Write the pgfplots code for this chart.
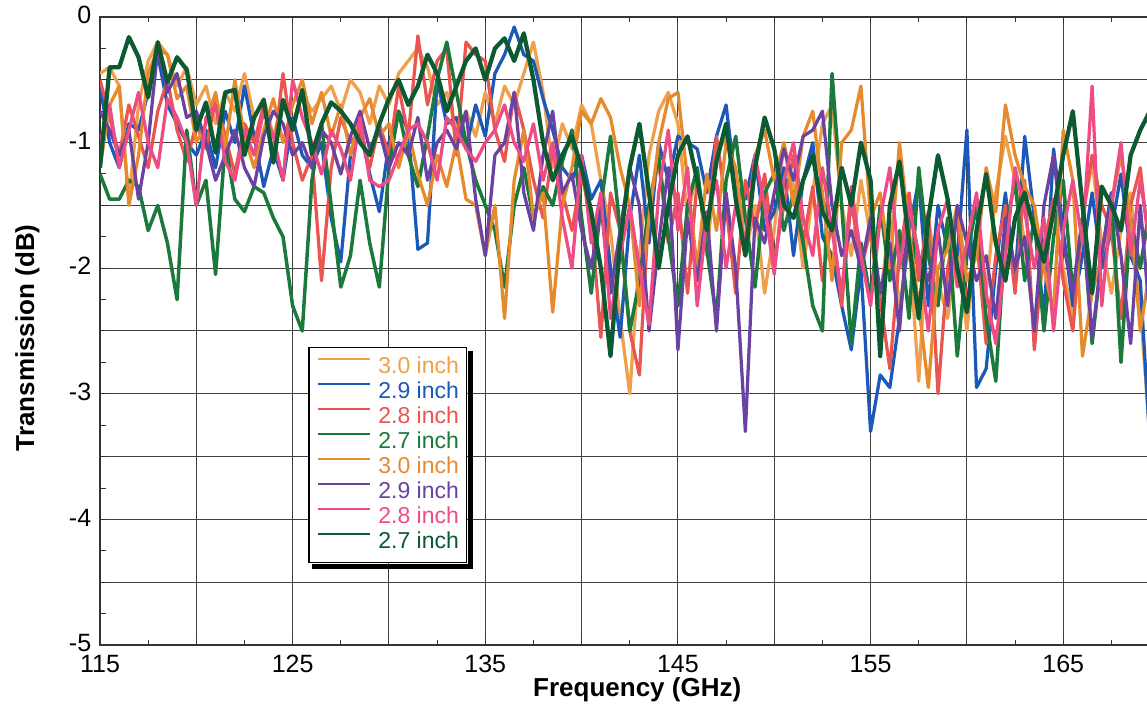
\documentclass[border=0pt]{standalone}
\usepackage{fontspec}
\setmainfont{Liberation Sans}
\usepackage{pgfplots}
\usepackage{pgfplotstable}
\pgfplotsset{compat=1.18}
\usetikzlibrary{calc}

\definecolor{cA}{HTML}{EFA04C}
\definecolor{cB}{HTML}{1C58B8}
\definecolor{cC}{HTML}{EA5550}
\definecolor{cD}{HTML}{1B7A3B}
\definecolor{cE}{HTML}{E68A2E}
\definecolor{cF}{HTML}{6A42A2}
\definecolor{cG}{HTML}{EE4C85}
\definecolor{cH}{HTML}{0B5A32}

% 3.0 inch (light orange)
\pgfplotstableread[row sep=\\]{y\\
-0.45\\ -0.40\\ -0.55\\ -1.45\\ -0.70\\ -0.35\\ -0.20\\ -0.30\\ -0.55\\ -0.40\\
-0.70\\ -0.55\\ -0.85\\ -0.60\\ -0.75\\ -0.45\\ -0.80\\ -0.65\\ -0.95\\ -0.70\\
-0.85\\ -0.60\\ -0.75\\ -0.65\\ -0.55\\ -0.75\\ -0.50\\ -0.60\\ -0.85\\ -0.55\\
-0.70\\ -0.45\\ -0.35\\ -0.25\\ -0.40\\ -0.70\\ -0.60\\ -0.90\\ -0.75\\ -0.95\\
-0.60\\ -0.85\\ -0.55\\ -0.70\\ -0.45\\ -0.20\\ -0.60\\ -1.20\\ -0.85\\ -1.05\\
-0.70\\ -0.85\\ -1.30\\ -1.70\\ -2.40\\ -3.00\\ -1.90\\ -1.10\\ -0.75\\ -0.60\\
-0.85\\ -1.60\\ -1.20\\ -1.90\\ -1.10\\ -0.95\\ -1.35\\ -1.90\\ -1.50\\ -2.20\\
-1.70\\ -1.00\\ -1.35\\ -2.00\\ -1.40\\ -0.85\\ -0.70\\ -1.50\\ -1.90\\ -1.30\\
-1.75\\ -2.25\\ -1.60\\ -2.30\\ -1.80\\ -2.90\\ -1.60\\ -2.10\\ -2.40\\ -1.85\\
-2.50\\ -1.70\\ -2.20\\ -1.40\\ -0.95\\ -1.30\\ -1.80\\ -2.50\\ -1.90\\ -1.50\\
-2.00\\ -2.40\\ -1.60\\ -1.15\\ -1.80\\ -2.20\\ -1.70\\ -1.40\\ -2.30\\ -3.35\\
-2.60\\
}\tA
% 2.9 inch (blue)
\pgfplotstableread[row sep=\\]{y\\
-0.55\\ -1.00\\ -1.20\\ -0.85\\ -0.90\\ -0.60\\ -0.30\\ -0.70\\ -0.85\\ -1.00\\
-1.10\\ -0.90\\ -1.20\\ -0.75\\ -1.00\\ -0.55\\ -0.95\\ -1.35\\ -1.05\\ -1.30\\
-0.80\\ -1.10\\ -1.20\\ -1.00\\ -1.60\\ -1.95\\ -1.10\\ -0.90\\ -1.25\\ -1.55\\
-1.00\\ -0.75\\ -0.90\\ -1.85\\ -1.80\\ -0.50\\ -0.85\\ -0.80\\ -1.05\\ -0.70\\
-0.95\\ -0.45\\ -0.30\\ -0.08\\ -0.30\\ -0.35\\ -0.65\\ -0.90\\ -1.20\\ -1.30\\
-1.10\\ -1.45\\ -1.30\\ -2.00\\ -2.55\\ -1.60\\ -1.10\\ -1.80\\ -1.00\\ -1.30\\
-0.95\\ -1.00\\ -1.05\\ -1.40\\ -0.95\\ -0.70\\ -1.35\\ -1.45\\ -1.10\\ -1.70\\
-1.55\\ -1.20\\ -1.90\\ -1.30\\ -1.00\\ -1.75\\ -1.90\\ -2.30\\ -2.65\\ -2.00\\
-3.30\\ -2.85\\ -2.95\\ -2.40\\ -1.70\\ -1.30\\ -2.30\\ -1.50\\ -1.85\\ -1.90\\
-0.90\\ -2.95\\ -2.80\\ -2.00\\ -1.40\\ -2.10\\ -0.95\\ -1.60\\ -2.40\\ -1.05\\
-1.70\\ -2.30\\ -1.90\\ -1.40\\ -2.00\\ -1.70\\ -1.25\\ -1.90\\ -2.10\\ -3.40\\
-2.80\\
}\tB
% 2.8 inch (red)
\pgfplotstableread[row sep=\\]{y\\
-0.50\\ -0.80\\ -1.10\\ -0.70\\ -0.95\\ -1.20\\ -0.75\\ -0.50\\ -0.90\\ -1.15\\
-0.85\\ -1.05\\ -0.65\\ -0.95\\ -1.25\\ -0.85\\ -1.00\\ -0.70\\ -1.10\\ -0.45\\
-1.00\\ -1.30\\ -1.10\\ -2.10\\ -1.20\\ -0.80\\ -1.00\\ -0.90\\ -1.20\\ -0.85\\
-1.10\\ -0.55\\ -0.95\\ -0.15\\ -0.70\\ -0.35\\ -0.25\\ -1.10\\ -0.20\\ -0.30\\
-0.35\\ -0.90\\ -1.15\\ -0.60\\ -0.90\\ -1.30\\ -1.60\\ -1.05\\ -1.40\\ -1.70\\
-1.25\\ -1.60\\ -2.55\\ -1.40\\ -1.70\\ -2.50\\ -2.85\\ -1.50\\ -1.15\\ -1.80\\
-1.40\\ -2.20\\ -1.30\\ -1.75\\ -0.95\\ -1.50\\ -2.20\\ -1.30\\ -1.70\\ -1.25\\
-1.95\\ -1.50\\ -1.10\\ -1.80\\ -1.35\\ -2.10\\ -1.60\\ -2.30\\ -1.45\\ -2.00\\
-1.70\\ -2.25\\ -2.80\\ -1.90\\ -1.40\\ -2.10\\ -1.55\\ -3.00\\ -2.00\\ -1.60\\
-2.30\\ -1.75\\ -2.60\\ -1.90\\ -1.50\\ -2.20\\ -1.30\\ -2.65\\ -1.80\\ -1.45\\
-2.10\\ -2.50\\ -1.60\\ -1.10\\ -1.50\\ -1.70\\ -2.40\\ -1.50\\ -1.20\\ -1.90\\
-1.60\\
}\tC
% 2.7 inch (green)
\pgfplotstableread[row sep=\\]{y\\
-1.25\\ -1.45\\ -1.45\\ -1.30\\ -1.35\\ -1.70\\ -1.50\\ -1.80\\ -2.25\\ -0.90\\
-1.50\\ -1.30\\ -2.05\\ -1.00\\ -1.45\\ -1.55\\ -1.35\\ -1.40\\ -1.60\\ -1.75\\
-2.30\\ -2.50\\ -1.30\\ -0.85\\ -1.50\\ -2.15\\ -1.90\\ -1.30\\ -1.80\\ -2.15\\
-1.20\\ -0.75\\ -1.10\\ -1.35\\ -0.95\\ -0.50\\ -0.20\\ -0.60\\ -1.00\\ -1.30\\
-1.50\\ -1.70\\ -2.15\\ -1.50\\ -1.20\\ -1.60\\ -1.35\\ -1.50\\ -1.15\\ -0.90\\
-1.60\\ -2.20\\ -1.50\\ -0.95\\ -1.70\\ -2.50\\ -2.10\\ -1.50\\ -1.10\\ -1.75\\
-2.30\\ -1.50\\ -1.20\\ -1.85\\ -2.40\\ -1.30\\ -0.95\\ -1.60\\ -2.15\\ -1.40\\
-1.25\\ -1.70\\ -1.40\\ -1.80\\ -2.30\\ -2.50\\ -0.45\\ -1.50\\ -2.60\\ -1.80\\
-2.25\\ -1.50\\ -2.10\\ -1.70\\ -2.40\\ -1.20\\ -1.90\\ -2.30\\ -1.60\\ -2.70\\
-1.90\\ -1.50\\ -2.40\\ -2.90\\ -1.70\\ -1.30\\ -2.10\\ -1.60\\ -2.50\\ -1.75\\
-1.30\\ -2.20\\ -1.60\\ -2.60\\ -1.90\\ -1.40\\ -2.75\\ -1.60\\ -2.00\\ -1.50\\
-1.90\\
}\tD
% 3.0 inch (orange)
\pgfplotstableread[row sep=\\]{y\\
-1.20\\ -0.70\\ -0.55\\ -1.50\\ -1.10\\ -0.45\\ -0.25\\ -0.30\\ -0.65\\ -0.55\\
-1.00\\ -0.85\\ -0.60\\ -1.05\\ -0.50\\ -0.95\\ -1.20\\ -0.90\\ -0.65\\ -1.00\\
-0.70\\ -0.50\\ -0.85\\ -0.60\\ -0.95\\ -0.70\\ -1.10\\ -0.80\\ -0.65\\ -0.95\\
-0.85\\ -1.20\\ -0.90\\ -1.25\\ -1.50\\ -1.10\\ -1.35\\ -1.00\\ -1.45\\ -1.50\\
-1.90\\ -1.50\\ -2.40\\ -1.30\\ -0.90\\ -1.60\\ -1.40\\ -2.35\\ -1.50\\ -1.20\\
-0.75\\ -0.85\\ -0.65\\ -0.80\\ -1.20\\ -1.50\\ -2.30\\ -1.60\\ -1.00\\ -0.65\\
-0.60\\ -1.30\\ -2.00\\ -1.25\\ -1.70\\ -1.00\\ -1.20\\ -1.85\\ -1.10\\ -0.90\\
-1.30\\ -1.00\\ -1.50\\ -0.95\\ -0.75\\ -1.40\\ -2.10\\ -1.00\\ -0.90\\ -0.55\\
-1.60\\ -1.40\\ -2.00\\ -1.00\\ -1.70\\ -2.30\\ -2.95\\ -2.00\\ -1.85\\ -1.50\\
-2.10\\ -1.90\\ -1.20\\ -1.55\\ -0.70\\ -1.10\\ -1.35\\ -1.50\\ -2.00\\ -2.35\\
-0.90\\ -1.30\\ -2.70\\ -2.20\\ -1.90\\ -1.50\\ -1.10\\ -1.60\\ -2.50\\ -2.00\\
-2.30\\
}\tE
% 2.9 inch (purple)
\pgfplotstableread[row sep=\\]{y\\
-0.75\\ -0.90\\ -1.10\\ -0.90\\ -1.45\\ -1.00\\ -0.25\\ -0.60\\ -0.45\\ -0.80\\
-0.75\\ -1.00\\ -1.30\\ -1.10\\ -0.90\\ -1.20\\ -1.35\\ -0.95\\ -0.75\\ -0.85\\
-1.10\\ -1.00\\ -1.20\\ -0.90\\ -1.00\\ -1.25\\ -0.95\\ -0.75\\ -1.05\\ -0.90\\
-1.20\\ -1.00\\ -1.10\\ -0.80\\ -1.30\\ -1.00\\ -0.90\\ -1.05\\ -0.75\\ -1.45\\
-1.90\\ -1.10\\ -1.00\\ -0.60\\ -1.40\\ -1.70\\ -1.10\\ -0.75\\ -1.40\\ -1.25\\
-1.70\\ -2.00\\ -1.50\\ -2.20\\ -1.70\\ -1.20\\ -1.50\\ -2.50\\ -1.80\\ -1.20\\
-2.65\\ -1.60\\ -2.10\\ -1.55\\ -2.50\\ -1.40\\ -2.00\\ -3.30\\ -1.60\\ -1.80\\
-1.40\\ -1.05\\ -1.30\\ -0.95\\ -0.90\\ -0.75\\ -1.50\\ -1.90\\ -1.70\\ -2.00\\
-1.60\\ -2.20\\ -1.80\\ -2.50\\ -1.50\\ -1.90\\ -2.10\\ -1.70\\ -2.30\\ -1.50\\
-1.80\\ -2.10\\ -1.90\\ -2.40\\ -1.60\\ -2.00\\ -1.75\\ -2.50\\ -1.50\\ -1.10\\
-1.80\\ -2.20\\ -1.60\\ -2.55\\ -1.90\\ -1.40\\ -1.90\\ -2.60\\ -1.50\\ -2.40\\
-1.90\\
}\tF
% 2.8 inch (pink)
\pgfplotstableread[row sep=\\]{y\\
-1.00\\ -0.70\\ -1.20\\ -0.90\\ -0.60\\ -1.00\\ -1.20\\ -0.65\\ -0.80\\ -1.00\\
-1.50\\ -0.80\\ -0.70\\ -1.15\\ -1.30\\ -0.90\\ -1.10\\ -0.75\\ -0.95\\ -1.30\\
-0.50\\ -0.80\\ -1.00\\ -1.25\\ -0.90\\ -1.05\\ -1.30\\ -0.80\\ -1.30\\ -1.35\\
-1.30\\ -1.10\\ -0.90\\ -0.85\\ -1.00\\ -1.30\\ -0.80\\ -0.90\\ -1.05\\ -1.15\\
-1.00\\ -0.90\\ -0.70\\ -1.00\\ -1.15\\ -0.85\\ -1.30\\ -1.00\\ -1.60\\ -2.00\\
-1.10\\ -1.80\\ -1.40\\ -2.40\\ -1.90\\ -1.50\\ -2.00\\ -2.45\\ -1.40\\ -0.90\\
-1.70\\ -1.20\\ -2.30\\ -1.60\\ -1.30\\ -2.00\\ -1.50\\ -1.80\\ -1.10\\ -1.50\\
-2.05\\ -1.30\\ -1.00\\ -1.60\\ -1.90\\ -1.20\\ -1.70\\ -2.20\\ -1.35\\ -1.90\\
-2.30\\ -1.60\\ -1.20\\ -2.00\\ -1.50\\ -1.90\\ -2.50\\ -1.70\\ -1.45\\ -2.15\\
-1.80\\ -1.40\\ -2.20\\ -2.60\\ -1.90\\ -1.20\\ -1.55\\ -2.00\\ -1.60\\ -2.50\\
-1.70\\ -1.30\\ -1.80\\ -0.55\\ -2.30\\ -1.50\\ -1.00\\ -1.90\\ -1.30\\ -1.80\\
-1.10\\
}\tG
% 2.7 inch (dark green)
\pgfplotstableread[row sep=\\]{y\\
-1.20\\ -0.40\\ -0.40\\ -0.16\\ -0.32\\ -0.64\\ -0.20\\ -0.52\\ -0.32\\ -0.42\\
-0.90\\ -0.68\\ -1.08\\ -0.60\\ -0.58\\ -1.10\\ -0.80\\ -0.66\\ -1.16\\ -0.66\\
-0.90\\ -0.58\\ -1.09\\ -0.85\\ -0.68\\ -0.75\\ -0.85\\ -1.00\\ -1.10\\ -0.85\\
-0.65\\ -0.50\\ -0.70\\ -0.55\\ -0.30\\ -0.45\\ -0.75\\ -0.55\\ -0.35\\ -0.25\\
-0.50\\ -0.25\\ -0.17\\ -0.35\\ -0.13\\ -0.50\\ -1.00\\ -1.30\\ -1.10\\ -0.95\\
-1.20\\ -1.55\\ -2.00\\ -2.70\\ -1.80\\ -1.20\\ -0.85\\ -1.40\\ -2.00\\ -1.50\\
-1.10\\ -0.95\\ -1.30\\ -1.70\\ -1.15\\ -0.85\\ -1.45\\ -1.90\\ -1.20\\ -0.80\\
-1.05\\ -1.50\\ -1.60\\ -1.30\\ -1.10\\ -1.55\\ -1.70\\ -1.20\\ -1.50\\ -1.00\\
-1.30\\ -2.70\\ -1.50\\ -1.15\\ -1.80\\ -2.40\\ -1.60\\ -1.10\\ -1.45\\ -2.00\\
-2.35\\ -1.70\\ -1.25\\ -1.80\\ -2.10\\ -1.60\\ -1.40\\ -1.70\\ -1.95\\ -1.55\\
-1.10\\ -0.75\\ -1.50\\ -2.20\\ -1.35\\ -1.50\\ -1.70\\ -1.10\\ -0.90\\ -0.75\\
-1.20\\
}\tH

\begin{document}
\begin{tikzpicture}
\begin{axis}[
  scale only axis,
  width=423.8pt, height=251.2pt,
  xmin=115, xmax=170, ymin=-5, ymax=0,
  xtick={115,120,...,170},
  xticklabels={115,,125,,135,,145,,155,,165,},
  minor x tick num=1,
  ytick={-5,-4.5,...,0},
  yticklabels={-5,,-4,,-3,,-2,,-1,,0},
  minor y tick num=1,
  grid=major,
  grid style={black!75, line width=0.4pt},
  axis line style={black!80, line width=0.6pt},
  tick style={black!80, line width=0.4pt},
  major tick length=3pt, minor tick length=2.2pt,
  tick align=inside,
  ticklabel style={font=\fontsize{10}{12}\selectfont},
  xticklabel style={yshift=-0.5pt},
  yticklabel style={yshift=0.8pt},
  xlabel={Frequency (GHz)},
  ylabel={Transmission (dB)},
  label style={font=\fontsize{10.4}{12}\selectfont\bfseries},
  xlabel style={at={(axis description cs:0.507,-0.0715)}, anchor=center},
  ylabel style={at={(axis description cs:-0.0684,0.489)}, anchor=center},
  legend cell align=left,
  legend image code/.code={\draw[#1, line width=1pt] (0pt,3.4pt) -- (21pt,3.4pt);},
  legend style={
    name=leg,
    at={(rel axis cs:0.1963,0.475)}, anchor=north west,
    draw=black, line width=0.7pt, fill=white,
    font=\fontsize{9.2}{10}\selectfont,
    inner xsep=3pt, inner ysep=3pt,
    row sep=0pt,
    nodes={inner sep=0pt, text height=7.2pt, text depth=2.8pt},
    /tikz/every odd column/.style={column sep=2.8pt},
  },
  every axis plot/.append style={line join=round},
]
\addplot[cA, line width=1.3pt] table[x expr=115+0.5*\coordindex, y=y]{\tA};
\addlegendentry{\textcolor{cA}{3.0 inch}}
\addplot[cB, line width=1.3pt] table[x expr=115+0.5*\coordindex, y=y]{\tB};
\addlegendentry{\textcolor{cB}{2.9 inch}}
\addplot[cC, line width=1.3pt] table[x expr=115+0.5*\coordindex, y=y]{\tC};
\addlegendentry{\textcolor{cC}{2.8 inch}}
\addplot[cD, line width=1.4pt] table[x expr=115+0.5*\coordindex, y=y]{\tD};
\addlegendentry{\textcolor{cD}{2.7 inch}}
\addplot[cE, line width=1.3pt] table[x expr=115+0.5*\coordindex, y=y]{\tE};
\addlegendentry{\textcolor{cE}{3.0 inch}}
\addplot[cF, line width=1.3pt] table[x expr=115+0.5*\coordindex, y=y]{\tF};
\addlegendentry{\textcolor{cF}{2.9 inch}}
\addplot[cG, line width=1.3pt] table[x expr=115+0.5*\coordindex, y=y]{\tG};
\addlegendentry{\textcolor{cG}{2.8 inch}}
\addplot[cH, line width=1.7pt] table[x expr=115+0.5*\coordindex, y=y]{\tH};
\addlegendentry{\textcolor{cH}{2.7 inch}}
\coordinate (bbsw) at (rel axis cs:0,0);
\coordinate (bbne) at (axis cs:169.35,0);
\end{axis}
% legend drop shadow (solid black strips at right and bottom)
\fill[black] ($(leg.north east)+(0.35pt,-1.8pt)$) rectangle ($(leg.south east)+(2.1pt,-2.1pt)$);
\fill[black] ($(leg.south west)+(1.8pt,-0.35pt)$) rectangle ($(leg.south east)+(2.1pt,-2.1pt)$);
\pgfresetboundingbox
\path[use as bounding box] ($(bbsw)+(-40pt,-24.4pt)$) rectangle ($(bbne)+(0pt,6.8pt)$);
\end{tikzpicture}
\end{document}
